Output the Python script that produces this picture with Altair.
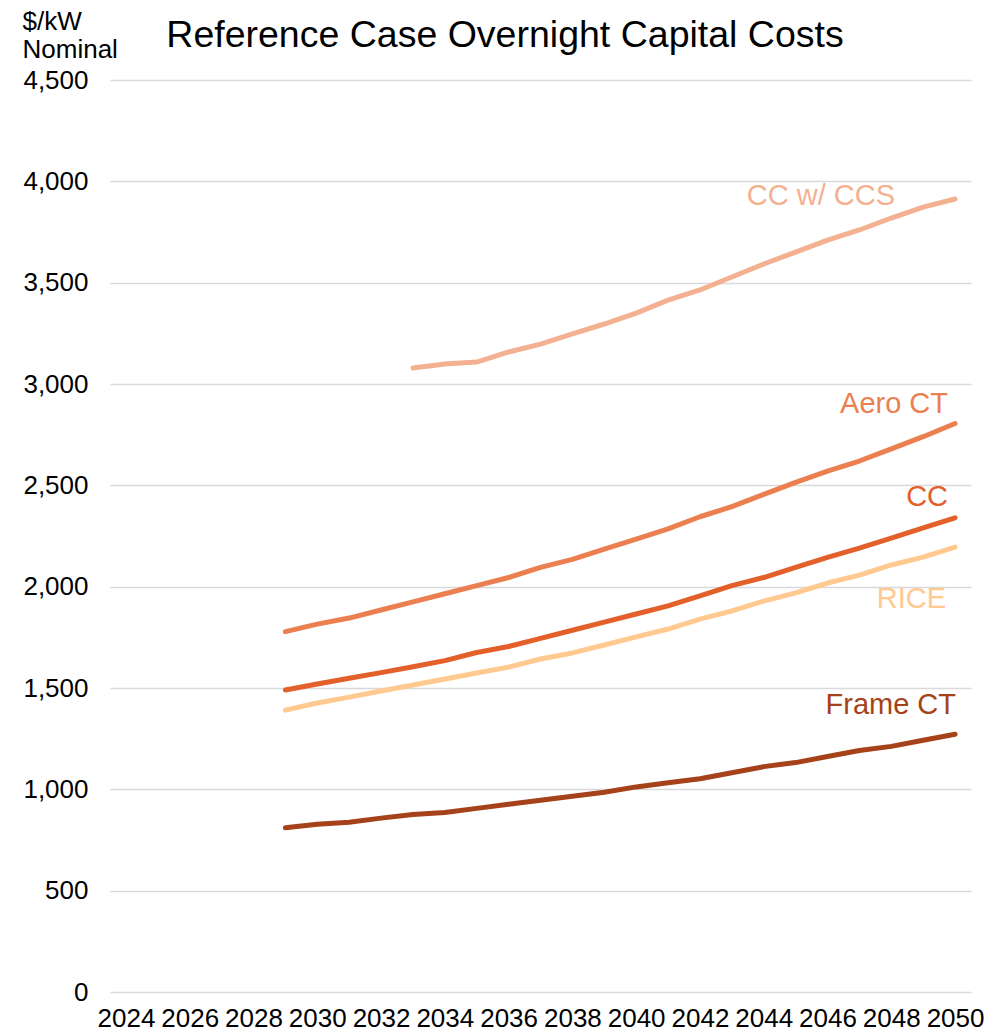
import altair as alt
import pandas as pd

years = list(range(2029, 2051))

cc_ccs = [None, None, None, None,
          3079, 3099, 3108, 3158, 3197, 3247, 3296, 3350, 3414, 3464,
          3528, 3592, 3651, 3710, 3760, 3819, 3873, 3913]
aero_ct = [1778, 1815, 1845, 1885, 1925, 1965, 2005, 2045, 2095, 2135, 2185,
           2235, 2285, 2345, 2395, 2455, 2515, 2570, 2620, 2680, 2740, 2805]
cc = [1490, 1520, 1548, 1576, 1605, 1635, 1675, 1705, 1745, 1785, 1825,
      1865, 1905, 1955, 2005, 2045, 2095, 2145, 2190, 2240, 2290, 2340]
rice = [1391, 1426, 1455, 1485, 1515, 1544, 1574, 1603, 1643, 1673, 1712,
        1752, 1791, 1840, 1880, 1929, 1969, 2018, 2057, 2107, 2146, 2195]
frame_ct = [810, 828, 838, 858, 876, 886, 906, 926, 946, 966, 986,
            1012, 1032, 1052, 1082, 1112, 1132, 1162, 1192, 1212, 1242, 1272]

series_names = ["CC w/ CCS", "Aero CT", "CC", "RICE", "Frame CT"]
series_values = [cc_ccs, aero_ct, cc, rice, frame_ct]
colors = ["#F4B192", "#EC7F4F", "#E3602A", "#FFC98F", "#A6421A"]

# label anchors (data units)
label_x = [2048.12, 2049.78, 2049.78, 2049.72, 2050.03]
label_y = [3927, 2900, 2440, 1939, 1418]

x_ticks = list(range(2024, 2051, 2))
y_ticks = list(range(0, 4501, 500))

title_text = "Reference Case Overnight Capital Costs"

rows = []
for name, vals in zip(series_names, series_values):
    for yr, v in zip(years, vals):
        if v is not None:
            rows.append({"series": name, "year": yr, "value": v})
df = pd.DataFrame(rows)

labels_df = pd.DataFrame({"series": series_names, "lx": label_x, "ly": label_y})
title_df = pd.DataFrame({"t": [title_text]})

FONT = "Liberation Sans"
x_scale = alt.Scale(domain=[2023.5, 2050.5], nice=False, zero=False)
y_scale = alt.Scale(domain=[0, 4500], nice=False)
color_scale = alt.Scale(domain=series_names, range=colors)

x_axis = alt.Axis(values=x_ticks, format="d", grid=False, domain=False, ticks=False,
                  labelFontSize=26, labelPadding=13, labelFont=FONT, labelColor="black",
                  labelOverlap=False, labelFlush=False, title=None)
y_axis = alt.Axis(values=y_ticks, format=",d", grid=True, gridColor="#D9D9D9", gridWidth=1.5,
                  domain=False, ticks=False, labelFontSize=26, labelPadding=22,
                  labelFont=FONT, labelColor="black",
                  title=["$/kW", "Nominal"], titleAngle=0, titleAlign="left",
                  titleBaseline="alphabetic", titleX=-88, titleY=-51,
                  titleFontSize=26, titleFontWeight="normal", titleFont=FONT,
                  titleColor="black", titleLineHeight=28)

lines = alt.Chart(df).mark_line(strokeWidth=5, strokeCap="round", strokeJoin="round").encode(
    x=alt.X("year:Q", scale=x_scale, axis=x_axis),
    y=alt.Y("value:Q", scale=y_scale, axis=y_axis),
    color=alt.Color("series:N", scale=color_scale, legend=None),
    detail="series:N",
)

texts = alt.Chart(labels_df).mark_text(align="right", baseline="middle", fontSize=29, font=FONT).encode(
    x=alt.X("lx:Q", scale=x_scale, axis=x_axis),
    y=alt.Y("ly:Q", scale=y_scale, axis=y_axis),
    text="series:N",
    color=alt.Color("series:N", scale=color_scale, legend=None),
)

title_mark = alt.Chart(title_df).mark_text(align="center", baseline="alphabetic", fontSize=37.5,
                                           font=FONT, color="black").encode(
    x=alt.value(395),
    y=alt.value(-33),
    text="t:N",
)

chart = alt.layer(lines, texts, title_mark).properties(
    width=861,
    height=912,
    autosize=alt.AutoSizeParams(type="none"),
    padding={"left": 110, "top": 80, "right": 36, "bottom": 43},
).configure_view(stroke=None)

chart.save("out.html", embed_options={"renderer": "svg", "actions": False})
